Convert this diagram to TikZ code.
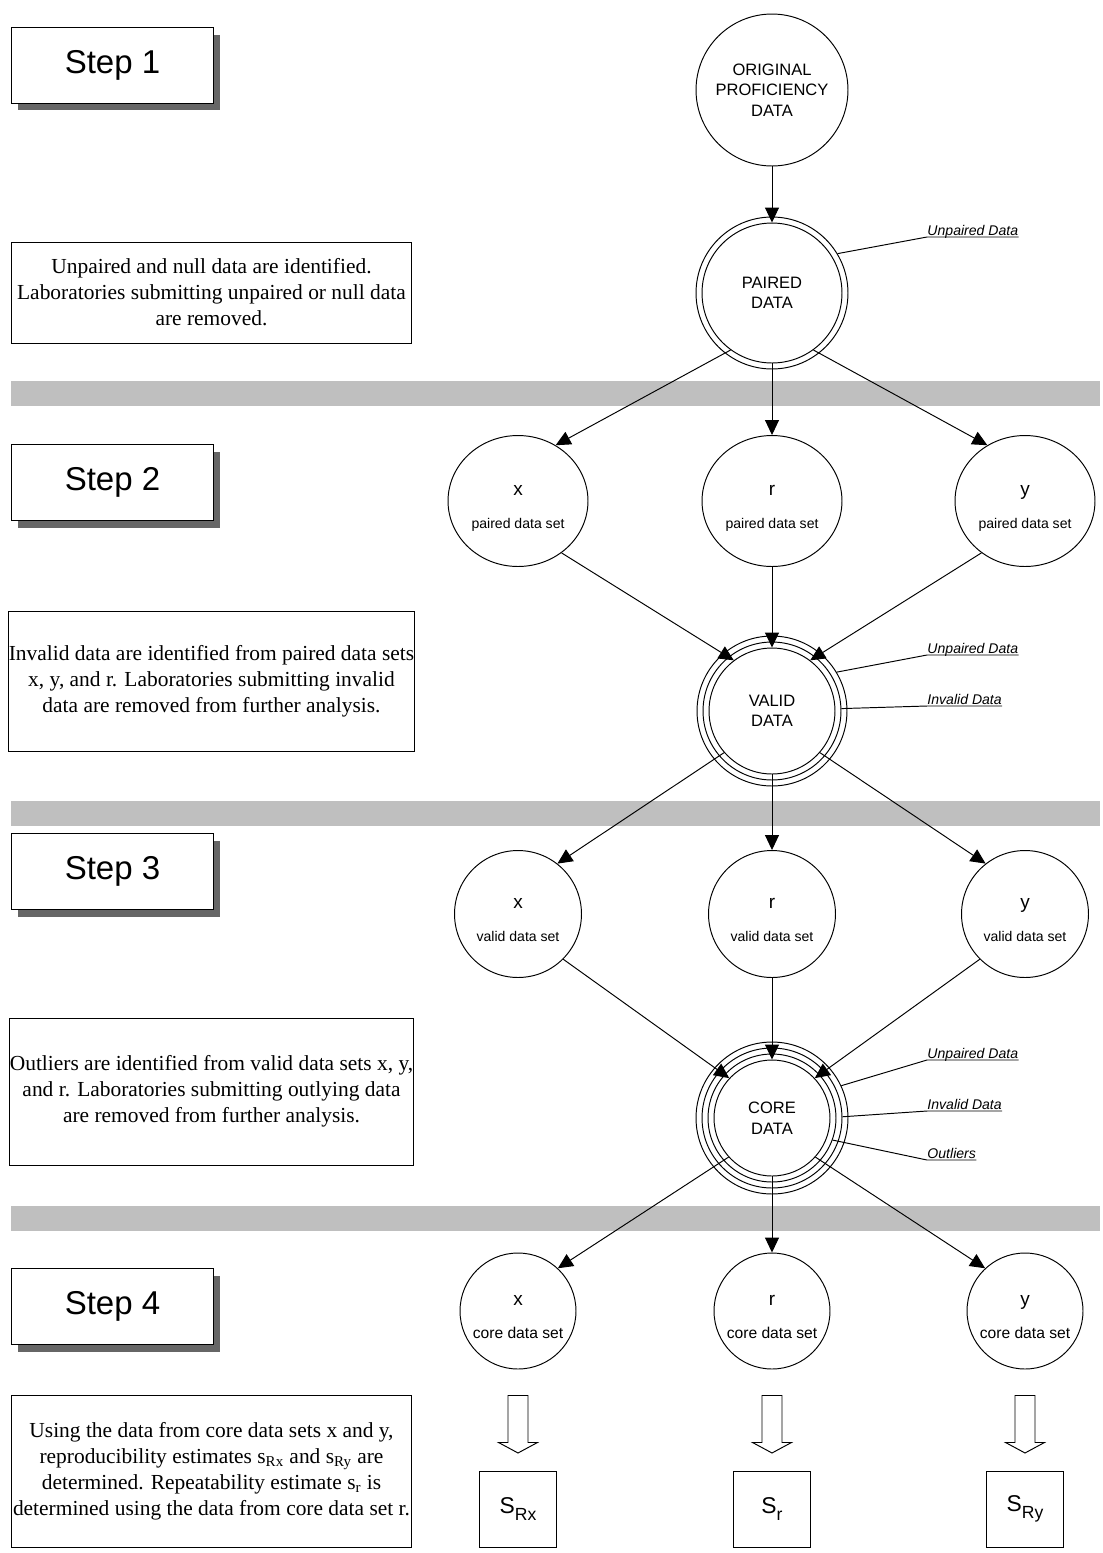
\documentclass[tikz,border=0pt]{standalone}
\usepackage{fontspec}
\setmainfont{Liberation Sans}
\newfontfamily\serifbox{Liberation Serif}
\usetikzlibrary{arrows.meta,shapes.geometric,shadows,calc}

\definecolor{bandgray}{gray}{0.75}
\definecolor{shadowgray}{gray}{0.4}

% letter on top, small caption below, inside a set circle
\newcommand{\setlbl}[2]{\rule{0pt}{14.8pt}{\fontsize{10.8}{10.8}\selectfont #1}\\#2\rule[-2.3pt]{0pt}{2.3pt}}
\newcommand{\lowsub}[1]{\raisebox{-4pt}{\fontsize{10}{10}\selectfont #1}}

\tikzset{
  stepbox/.style={draw, fill=white, minimum width=4.06cm, minimum height=1.52cm, inner sep=0,
    font=\fontsize{18.8}{22}\selectfont,
    drop shadow={shadow xshift=0.13cm, shadow yshift=-0.15cm, fill=shadowgray, opacity=1}},
  notebox/.style={draw, minimum width=8.02cm, inner sep=0, align=center,
    font=\serifbox\fontsize{12.2}{14.8}\selectfont},
  band/.style={fill=bandgray},
  datanode/.style={circle, draw, inner sep=0, align=center, font=\fontsize{9.4}{11.7}\selectfont},
  ringnode/.style={circle, draw, inner sep=0},
  setnode/.style={circle, draw, inner sep=0, align=center, font=\fontsize{8}{19.3}\selectfont},
  pairset/.style={setnode, ellipse, minimum width=2.8cm, minimum height=2.62cm},
  validset/.style={setnode, minimum size=2.54cm},
  coreset/.style={setnode, minimum size=2.32cm, font=\fontsize{8.9}{19.3}\selectfont},
  result/.style={draw, minimum width=1.54cm, minimum height=1.52cm, inner sep=0, font=\fontsize{13}{15}\selectfont},
  lbl/.style={anchor=south west, inner xsep=0, inner ysep=0.03cm, text depth=0pt, font=\fontsize{8}{9}\selectfont\itshape},
  flow/.style={-{Triangle[length=0.3cm,width=0.28cm]}},
  hollow/.style={draw, fill=white}
}

\begin{document}
\begin{tikzpicture}[x=0.02cm, y=-0.02cm, line width=0.55pt]
\useasboundingbox (0,0) rectangle (1103,1553);

% grey separators between the steps
\foreach \y in {381,801,1206} {\fill[band] (11,\y) rectangle (1100,\y+25);}

% left column
\node (step1) [stepbox] at (112.5,65) {Step 1};
\node (step2) [stepbox] at (112.5,482) {Step 2};
\node (step3) [stepbox] at (112.5,871) {Step 3};
\node (step4) [stepbox] at (112.5,1306) {Step 4};

\node (note1) [notebox, minimum height=2.02cm] at (211.5,292.5)
  {Unpaired and null data are identified.\\Laboratories submitting unpaired or null data\\are removed.};
\node (note2) [notebox, minimum height=2.8cm] at (211.5,681)
  {Invalid data are identified from paired data sets\\x, y, and r. Laboratories submitting invalid\\data are removed from further analysis.};
\node (note3) [notebox, minimum height=2.94cm] at (211.5,1091.5)
  {Outliers are identified from valid data sets x, y,\\and r. Laboratories submitting outlying data\\are removed from further analysis.};
\node (note4) [notebox, minimum height=3.04cm] at (211.5,1471)
  {Using the data from core data sets x and y,\\reproducibility estimates s\textsubscript{Rx} and s\textsubscript{Ry} are\\determined. Repeatability estimate s\textsubscript{r} is\\determined using the data from core data set r.};

% main chain
\node (orig) [datanode, minimum size=3.04cm] at (772,90) {ORIGINAL\\PROFICIENCY\\DATA};
\node (paired) [datanode, minimum size=2.8cm] at (772,293) {PAIRED\\DATA};
\node (paired1) [ringnode, minimum size=3.04cm] at (paired) {};
\node (valid) [datanode, minimum size=2.52cm] at (772,711) {VALID\\DATA};
\foreach \i/\s in {1/2.76cm, 2/3cm} {\node (valid\i) [ringnode, minimum size=\s] at (valid) {};}
\node (core) [datanode, minimum size=2.32cm] at (772,1118) {CORE\\DATA};
\foreach \i/\s in {1/2.56cm, 2/2.8cm, 3/3.04cm} {\node (core\i) [ringnode, minimum size=\s] at (core) {};}

% data sets
\node (px) [pairset] at (518,501) {\setlbl{x}{paired data set}};
\node (pr) [pairset] at (772,501) {\setlbl{r}{paired data set}};
\node (py) [pairset] at (1025,501) {\setlbl{y}{paired data set}};
\node (vx) [validset] at (518,914) {\setlbl{x}{valid data set}};
\node (vr) [validset] at (772,914) {\setlbl{r}{valid data set}};
\node (vy) [validset] at (1025,914) {\setlbl{y}{valid data set}};
\node (cx) [coreset] at (518,1311) {\setlbl{x}{core data set}};
\node (cr) [coreset] at (772,1311) {\setlbl{r}{core data set}};
\node (cy) [coreset] at (1025,1311) {\setlbl{y}{core data set}};

% removed data labels
\node (lbl1) [lbl] at (927,237) {Unpaired Data};
\node (lbl2) [lbl] at (927,655) {Unpaired Data};
\node (lbl3) [lbl] at (927,706) {Invalid Data};
\node (lbl4) [lbl] at (927,1060) {Unpaired Data};
\node (lbl5) [lbl] at (927,1111) {Invalid Data};
\node (lbl6) [lbl] at (927,1160) {Outliers};
\draw (paired1.31) -- (lbl1.south west) -- (lbl1.south east);
\draw (valid2.31) -- (lbl2.south west) -- (lbl2.south east);
\draw (valid1.2) -- (lbl3.south west) -- (lbl3.south east);
\draw (core3.25) -- (lbl4.south west) -- (lbl4.south east);
\draw (core2.1) -- (lbl5.south west) -- (lbl5.south east);
\draw (core1.340) -- (lbl6.south west) -- (lbl6.south east);

% flow
\draw[flow] (orig) -- (paired);
\draw[flow] (paired.234) -- (px.56);
\draw[flow] (paired) -- (pr);
\draw[flow] (paired.306) -- (py.124);
\draw[flow] (px.310) -- (valid.127);
\draw[flow] (pr) -- (valid);
\draw[flow] (py.230) -- (valid.53);
\draw[flow] (valid.221) -- (vx.52);
\draw[flow] (valid) -- (vr);
\draw[flow] (valid.319) -- (vy.128);
\draw[flow] (vx.315) -- (core.137);
\draw[flow] (vr) -- (core);
\draw[flow] (vy.225) -- (core.43);
\draw[flow] (core.222) -- (cx.47);
\draw[flow] (core) -- (cr);
\draw[flow] (core.318) -- (cy.133);

% estimates
\foreach \n in {cx,cr,cy} {\draw[hollow] ($(\n.south)+(-10,26)$) -- ++(0,47) -- ++(-9.5,0) -- ++(19.5,10.5) -- ++(19.5,-10.5) -- ++(-9.5,0) -- ++(0,-47) -- cycle;}
\node (sx) [result] at (518,1509) {S\lowsub{Rx}};
\node (sr) [result] at (772,1509) {S\lowsub{r}};
\node (sy) [result] at (1025,1509) {S\lowsub{Ry}};
\end{tikzpicture}
\end{document}
